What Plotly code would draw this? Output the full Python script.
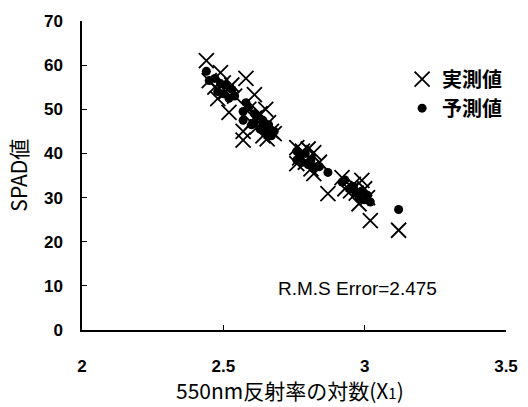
import plotly.graph_objects as go

x_log = [2.44, 2.45, 2.47, 2.48, 2.49, 2.50, 2.51, 2.52, 2.53, 2.54,
         2.58, 2.57, 2.57, 2.59, 2.60, 2.61, 2.61, 2.62, 2.63, 2.64,
         2.65, 2.655, 2.66, 2.67, 2.68, 2.76, 2.76, 2.77, 2.78, 2.79,
         2.80, 2.81, 2.82, 2.82, 2.84, 2.87, 2.92, 2.93, 2.95, 2.96,
         2.97, 2.98, 2.99, 3.00, 3.01, 3.02, 3.12]
measured = [61.0, 56.5, 55.0, 52.4, 58.3, 56.0, 54.0, 49.3, 55.5, 53.0,
            57.0, 45.0, 43.0, 50.0, 47.0, 53.3, 48.0, 46.0, 49.0, 44.0,
            50.0, 43.3, 47.0, 45.0, 44.5, 41.3, 37.7, 39.0, 40.5, 38.0,
            41.0, 36.5, 40.2, 35.4, 38.0, 30.9, 34.5, 32.0, 31.5, 33.0,
            31.0, 28.6, 33.9, 32.0, 30.0, 24.8, 22.6]
predicted = [58.6, 56.5, 57.0, 54.0, 55.8, 53.5, 55.5, 52.5, 54.5, 53.0,
             51.5, 49.5, 47.5, 50.5, 46.5, 49.0, 47.0, 48.5, 45.5, 47.5,
             46.0, 44.5, 46.5, 44.0, 45.0, 40.5, 38.5, 39.5, 38.0, 40.0,
             37.5, 38.5, 37.0, 36.5, 37.0, 35.7, 33.5, 34.0, 32.0, 32.5,
             31.0, 30.0, 31.5, 29.5, 30.5, 29.0, 27.3]

x_ticks = [2, 2.5, 3, 3.5]
y_ticks = [0, 10, 20, 30, 40, 50, 60, 70]

font_jp = "Noto Sans CJK JP"
font_num = "Liberation Sans"

fig = go.Figure()
fig.add_trace(go.Scatter(
    x=x_log, y=measured, mode="markers", name="実測値",
    marker=dict(symbol="x-thin-open", size=15, color="black",
                line=dict(color="black", width=1.8)),
))
fig.add_trace(go.Scatter(
    x=x_log, y=predicted, mode="markers", name="予測値",
    marker=dict(symbol="circle", size=9, color="black"),
))

fig.add_annotation(
    x=2.975, y=9.5, xref="x", yref="y", text="R.M.S Error=2.475",
    showarrow=False, font=dict(family=font_num, size=19, color="black"),
)
# axis titles
fig.add_annotation(
    x=0.49, y=-0.14, xref="paper", yref="paper", xanchor="center", yanchor="top",
    text="550nm反射率の対数(X<span style='font-size:15px'>1</span>)", showarrow=False,
    font=dict(family=font_jp, size=21, color="black"),
)
fig.add_annotation(
    x=-0.153, y=0.5, xref="paper", yref="paper", xanchor="center", yanchor="middle",
    textangle=-90, text="SPAD値", showarrow=False,
    font=dict(family=font_jp, size=21, color="black"),
)

fig.update_layout(
    width=528, height=407,
    margin=dict(l=82, r=22, t=21, b=77),
    paper_bgcolor="white", plot_bgcolor="white",
    showlegend=True,
    legend=dict(x=0.755, y=0.875, xanchor="left", yanchor="top",
                font=dict(family=font_jp, size=20, color="black", weight="bold"),
                bgcolor="rgba(0,0,0,0)", itemwidth=30, tracegroupgap=0),
    font=dict(family=font_num, color="black"),
)
fig.update_xaxes(
    range=[2, 3.5], tickvals=x_ticks, ticktext=[str(v) for v in x_ticks],
    showline=True, linecolor="black", linewidth=1.5, mirror=False,
    ticks="inside", ticklen=5, tickcolor="black", showgrid=False, zeroline=False,
    tickfont=dict(family=font_num, size=17, color="black", weight="bold"),
    ticklabelstandoff=20, automargin=False,
)
fig.update_yaxes(
    range=[0, 70], tickvals=y_ticks,
    showline=True, linecolor="black", linewidth=1.5,
    ticks="inside", ticklen=5, tickcolor="black", showgrid=False, zeroline=False,
    tickfont=dict(family=font_num, size=17, color="black", weight="bold"),
    ticklabelstandoff=14, automargin=False,
)

fig.write_html("out.html")
